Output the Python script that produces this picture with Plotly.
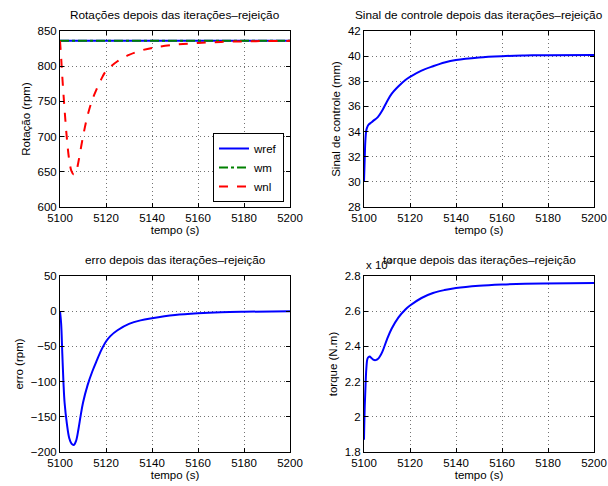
import plotly.graph_objects as go

# ---------------- data ----------------
t_rot = [5100, 5100.5, 5101, 5102, 5103, 5104, 5105, 5106, 5107, 5108, 5110, 5112, 5114, 5116, 5118,
         5120, 5125, 5130, 5135, 5140, 5150, 5160, 5170, 5180, 5190, 5200]
wref = [836] * len(t_rot)
wm = [836] * len(t_rot)
wnl = [836, 812, 785, 738, 697, 667, 651, 646, 650, 664, 700, 730, 752, 768, 782,
       793, 807, 816, 822, 826, 830.5, 833, 834.5, 835.3, 835.8, 836]

t_u = [5100, 5100.3, 5100.6, 5101, 5101.5, 5102, 5103, 5104, 5106, 5108, 5110, 5112, 5115, 5118,
       5120, 5125, 5130, 5135, 5140, 5150, 5160, 5170, 5180, 5200]
u_ctrl = [30.0, 31.8, 33.3, 34.1, 34.4, 34.55, 34.7, 34.85, 35.15, 35.7, 36.4, 37.0, 37.6, 38.1,
          38.35, 38.85, 39.2, 39.5, 39.7, 39.9, 40.0, 40.05, 40.08, 40.1]

t_e = [5100, 5100.5, 5101, 5101.5, 5102, 5103, 5104, 5105, 5106, 5107, 5108, 5109, 5110, 5112,
       5114, 5116, 5118, 5120, 5122, 5125, 5130, 5135, 5140, 5150, 5160, 5170, 5180, 5200]
erro = [0, -18, -60, -101, -130, -160, -180, -188, -190, -184, -168, -148, -130, -105,
        -86, -70, -55, -43, -35, -27, -18, -13, -10, -5.5, -3, -1.5, -0.8, 0]

t_q = [5100, 5100.3, 5100.7, 5101, 5101.5, 5102, 5102.5, 5103, 5104, 5105, 5106, 5107, 5108, 5110,
       5112, 5115, 5118, 5120, 5125, 5130, 5135, 5140, 5150, 5160, 5170, 5200]
torque_e4 = [1.87, 2.05, 2.19, 2.27, 2.33, 2.34, 2.343, 2.337, 2.325, 2.322, 2.328, 2.345, 2.37, 2.44,
             2.50, 2.565, 2.61, 2.632, 2.675, 2.703, 2.72, 2.732, 2.745, 2.752, 2.756, 2.76]

x_ticks = [5100, 5120, 5140, 5160, 5180, 5200]
y_ticks_rot = [600, 650, 700, 750, 800, 850]
y_ticks_u = [28, 30, 32, 34, 36, 38, 40, 42]
y_ticks_e = [-200, -150, -100, -50, 0, 50]
y_ticks_q = [1.8, 2.0, 2.2, 2.4, 2.6, 2.8]

titles = ["Rotações depois das iterações\u2013rejeição",
          "Sinal de controle depois das iterações\u2013rejeição",
          "erro depois das iterações\u2013rejeição",
          "torque depois das iterações\u2013rejeição"]
ylabels = ["Rotação (rpm)", "Sinal de controle (mm)", "erro (rpm)", "torque (N.m)"]

# ---------------- figure ----------------
W, H = 608, 486
FONT = "Liberation Sans, Arial, sans-serif"
fig = go.Figure()

fig.add_trace(go.Scatter(x=t_rot, y=wref, name="wref", mode="lines", line=dict(color="#0000ff", width=2),
                         xaxis="x", yaxis="y"))
fig.add_trace(go.Scatter(x=t_rot, y=wm, name="wm", mode="lines", line=dict(color="#008000", width=2, dash="dashdot"),
                         xaxis="x", yaxis="y"))
fig.add_trace(go.Scatter(x=t_rot, y=wnl, name="wnl", mode="lines", line=dict(color="#ff0000", width=2, dash="dash", shape="spline"),
                         xaxis="x", yaxis="y"))
fig.add_trace(go.Scatter(x=t_u, y=u_ctrl, mode="lines", showlegend=False, line=dict(color="#0000ff", width=2, shape="spline"),
                         xaxis="x2", yaxis="y2"))
fig.add_trace(go.Scatter(x=t_e, y=erro, mode="lines", showlegend=False, line=dict(color="#0000ff", width=2, shape="spline"),
                         xaxis="x3", yaxis="y3"))
fig.add_trace(go.Scatter(x=t_q, y=torque_e4, mode="lines", showlegend=False, line=dict(color="#0000ff", width=2, shape="spline"),
                         xaxis="x4", yaxis="y4"))

# pixel boxes of the four axes (left, right, top, bottom)
boxes = [(60, 290, 31, 207), (364, 594, 31, 207), (60, 290, 276, 452), (364, 594, 276, 452)]
yranges = [[600, 850], [28, 42], [-200, 50], [1.8, 2.8]]
yticks = [y_ticks_rot, y_ticks_u, y_ticks_e, y_ticks_q]

common = dict(showline=True, linecolor="black", linewidth=1, mirror="ticks", ticks="inside", ticklen=4,
              tickcolor="black", showgrid=True, gridcolor="rgba(0,0,0,0.55)", griddash="1px,3px", gridwidth=1,
              zeroline=False, automargin=False, tickfont=dict(family=FONT, size=11.5, color="black"))

annotations = []
for i, (l, r, t, b) in enumerate(boxes):
    sx = "" if i == 0 else str(i + 1)
    fig.layout["xaxis" + sx] = dict(domain=[l / W, r / W], range=[5100, 5200], tickvals=x_ticks,
                                    anchor="y" + sx,
                                    title=dict(text="tempo (s)", font=dict(family=FONT, size=11.5, color="black"), standoff=2),
                                    **common)
    fig.layout["yaxis" + sx] = dict(domain=[1 - b / H, 1 - t / H], range=yranges[i], tickvals=yticks[i],
                                    anchor="x" + sx,
                                    title=dict(text=ylabels[i], font=dict(family=FONT, size=11.5, color="black"), standoff=4),
                                    **common)
    annotations.append(dict(text=titles[i], x=(l + r) / 2 / W, y=1 - (t - 7) / H, xref="paper", yref="paper",
                            xanchor="center", yanchor="bottom", showarrow=False,
                            font=dict(family=FONT, size=11.8, color="black")))

annotations.append(dict(text="x 10<sup>4</sup>", x=364 / W, y=1 - 273 / H, xref="paper", yref="paper",
                        xanchor="left", yanchor="bottom", showarrow=False,
                        font=dict(family=FONT, size=11.5, color="black")))

fig.update_layout(
    width=W, height=H, margin=dict(l=0, r=0, t=0, b=0),
    paper_bgcolor="white", plot_bgcolor="white",
    annotations=annotations,
    showlegend=True,
    legend=dict(x=284 / W, y=1 - 202 / H, xanchor="right", yanchor="bottom", bgcolor="white",
                bordercolor="black", borderwidth=1, font=dict(family=FONT, size=11.5, color="black"),
                tracegroupgap=0, itemwidth=30),
)

fig.write_html("out.html", config={"displayModeBar": False},
               post_script="document.body.style.margin='0px';")
